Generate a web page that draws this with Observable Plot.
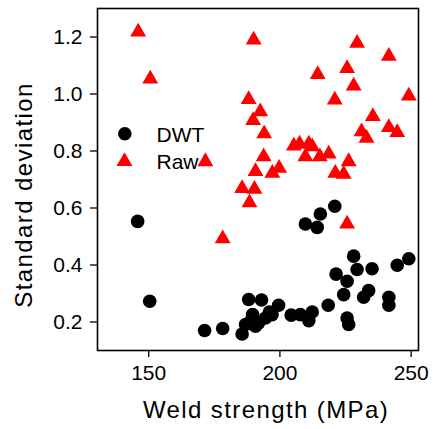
<!DOCTYPE html>
<html><head><meta charset="utf-8">
<script src="https://cdn.jsdelivr.net/npm/d3@7"></script>
<script src="https://cdn.jsdelivr.net/npm/@observablehq/plot@0.6"></script>
<style>html,body{margin:0;padding:0;background:#fff}</style>
</head><body><div id="chart"></div>
<script>
const series = ["DWT", "Raw"];
const seriesColors = ["black", "#ff0000"];
const dwtStrength = [145.8, 150.4, 171.3, 178.2, 185.6, 186.9, 188.1, 189.0, 189.6, 190.7, 191.9, 193.0, 194.5, 196.0, 197.0, 199.5, 204.3, 207.8, 211.0, 212.3, 218.4, 209.7, 214.2, 215.4, 220.9, 221.4, 224.3, 225.6, 225.6, 226.2, 228.1, 229.4, 231.9, 233.8, 235.1, 241.5, 241.5, 244.7, 249.1];
const dwtSD = [0.553, 0.273, 0.170, 0.177, 0.158, 0.191, 0.279, 0.205, 0.226, 0.185, 0.197, 0.277, 0.214, 0.235, 0.226, 0.259, 0.224, 0.226, 0.205, 0.235, 0.259, 0.544, 0.532, 0.579, 0.606, 0.368, 0.296, 0.343, 0.214, 0.191, 0.431, 0.384, 0.287, 0.310, 0.387, 0.287, 0.259, 0.399, 0.422];
const rawStrength = [146.0, 150.6, 171.6, 178.2, 185.6, 188.1, 188.4, 189.8, 190.0, 190.3, 190.7, 192.5, 193.8, 194.0, 197.1, 199.7, 205.3, 207.5, 209.7, 211.0, 212.3, 214.4, 215.2, 218.6, 220.9, 221.1, 224.3, 225.6, 225.6, 226.2, 228.1, 229.4, 231.1, 233.0, 235.4, 241.5, 241.5, 244.7, 249.1];
const rawSD = [1.218, 1.053, 0.763, 0.492, 0.669, 0.981, 0.619, 0.907, 1.190, 0.666, 0.728, 0.938, 0.780, 0.861, 0.722, 0.740, 0.818, 0.825, 0.780, 0.825, 0.815, 1.069, 0.780, 0.790, 0.979, 0.722, 0.719, 1.090, 0.544, 0.763, 1.028, 1.178, 0.868, 0.845, 0.921, 1.133, 0.883, 0.865, 0.993];
const xTicks = [150, 200, 250];
const yTicks = [0.2, 0.4, 0.6, 0.8, 1.0, 1.2];
const xTitle = "Weld strength (MPa)";
const yTitle = "Standard deviation";

const font = "'Liberation Sans', Arial, sans-serif";
const chart = Plot.plot({
  width: 434, height: 429,
  marginLeft: 97, marginRight: 16, marginTop: 8, marginBottom: 79,
  style: {fontFamily: font, fontSize: "21px", color: "black", background: "white"},
  x: {domain: [130.5, 252.8]},
  y: {domain: [0.1, 1.3]},
  marks: [
    Plot.axisX(xTicks, {tickSize: 7, tickPadding: 8, fontSize: 21, label: null, stroke: "black", strokeWidth: 1.3}),
    Plot.axisY(yTicks, {tickSize: 7, tickPadding: 8, fontSize: 21, label: null, tickFormat: d3.format(".1f"), stroke: "black", strokeWidth: 1.3}),
    Plot.frame({stroke: "black", strokeWidth: 1.6}),
    Plot.dot(dwtSD, {x: dwtStrength, y: dwtSD, r: 6.8, fill: seriesColors[0], symbol: "circle"}),
    Plot.dot(rawSD, {x: rawStrength, y: rawSD, r: 5.9, fill: seriesColors[1], symbol: "triangle"}),
    // legend
    Plot.dot([series[0]], {frameAnchor: "top-left", dx: 27.3, dy: 125.3, r: 6.8, fill: seriesColors[0], symbol: "circle"}),
    Plot.dot([series[1]], {frameAnchor: "top-left", dx: 27, dy: 153, r: 5.9, fill: seriesColors[1], symbol: "triangle"}),
    Plot.text([series[0]], {frameAnchor: "top-left", dx: 59, dy: 126.3, text: d => d, textAnchor: "start", lineAnchor: "middle", fontSize: 21, fill: "black"}),
    Plot.text([series[1]], {frameAnchor: "top-left", dx: 59, dy: 153.6, text: d => d, textAnchor: "start", lineAnchor: "middle", fontSize: 21, fill: "black"}),
    // x title
    Plot.text([xTitle], {frameAnchor: "bottom", dx: 8, dy: 67, text: d => d, lineAnchor: "bottom", fontSize: 24, fill: "black", className: "ttl"})
  ]
});
d3.select(chart).selectAll(".ttl text").attr("letter-spacing", "1.4px");
// y title (rotated)
d3.select(chart).append("text")
  .attr("transform", "translate(32,195) rotate(-90)")
  .attr("text-anchor", "middle")
  .attr("font-family", font)
  .attr("font-size", 24)
  .attr("letter-spacing", "1.4px")
  .attr("fill", "black")
  .text(yTitle);
document.getElementById("chart").appendChild(chart);
</script>
</body></html>
